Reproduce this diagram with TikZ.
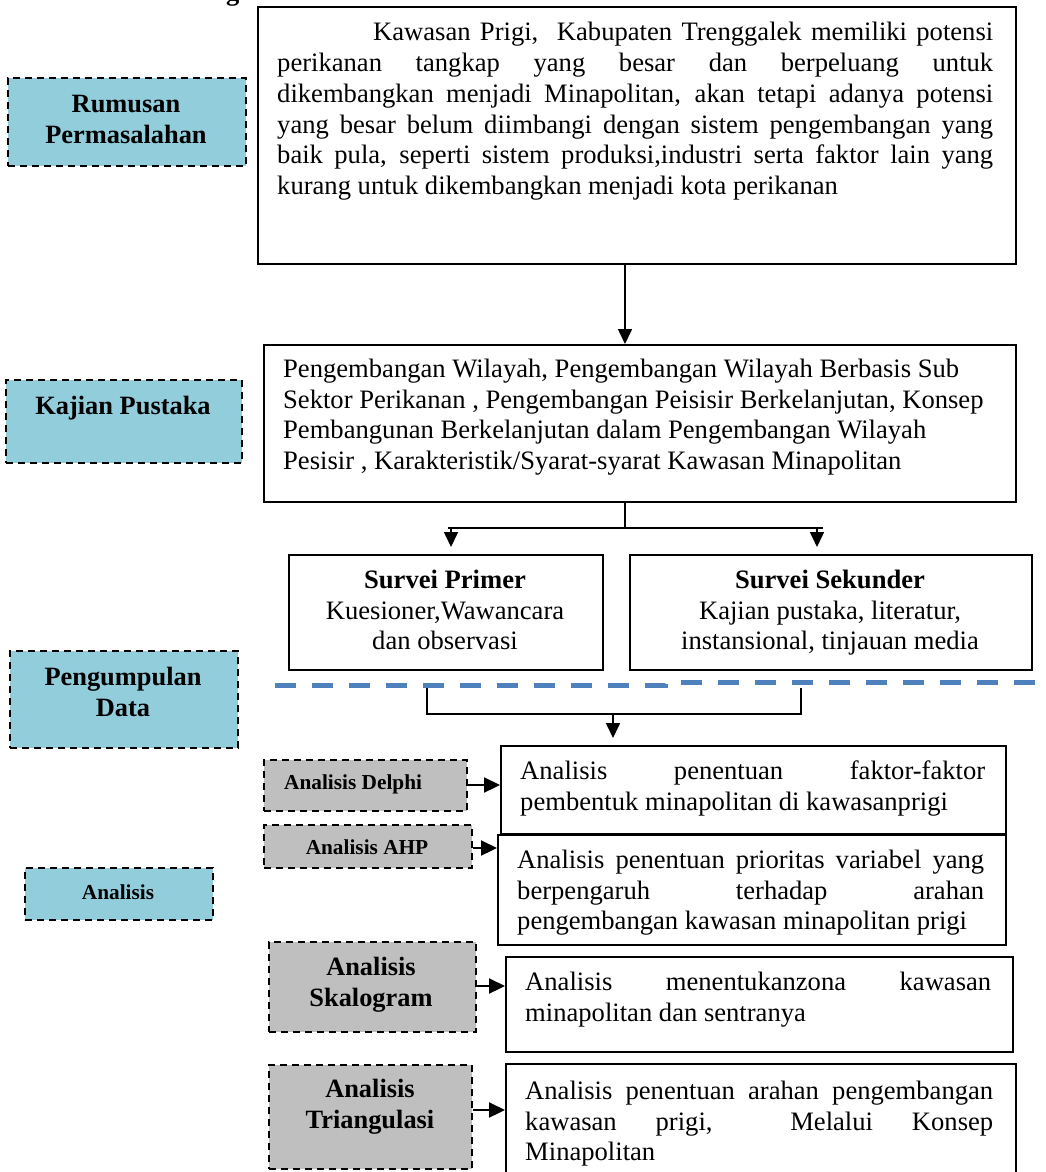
\documentclass[tikz,border=0pt]{standalone}
\usepackage{fontspec}
\setmainfont{Liberation Serif}
\usetikzlibrary{arrows.meta}

\definecolor{tagblue}{HTML}{92CDDC}
\definecolor{taggray}{HTML}{BFBFBF}
\definecolor{rulerblue}{HTML}{4F81BD}

\newcommand{\bodyfont}{\fontsize{26.6}{30.8}\selectfont}
\newcommand{\tagfont}{\fontsize{26.4}{31}\selectfont\bfseries}
\newcommand{\smalltagfont}{\fontsize{21.3}{26}\selectfont\bfseries}
% one justified line of a given width
\newcommand{\jl}[2]{\makebox[#1][s]{#2}}
% fixed first-line height, so the top of a text block sits 20pt above its first baseline
\newcommand{\st}{\rule{0pt}{20pt}}
\newcommand{\sst}{\rule{0pt}{16pt}}

\tikzset{
  box/.style={draw=black, line width=2pt, inner sep=0pt, anchor=north west},
  tag/.style={draw=black, line width=2.2pt, dash pattern=on 7pt off 5pt, inner sep=0pt, anchor=north west},
  bluetag/.style={tag, fill=tagblue},
  graytag/.style={tag, fill=taggray},
  body/.style={inner sep=0pt, anchor=north west, align=left, font=\bodyfont},
  tagtext/.style={inner sep=0pt, anchor=north, align=center, font=\tagfont},
  smalltext/.style={inner sep=0pt, anchor=north, align=center, font=\smalltagfont},
  conn/.style={line width=1.6pt},
  arr/.style={line width=1.6pt, -{Triangle[length=15pt,width=14pt]}},
  sidearr/.style={line width=2.2pt, -{Triangle[length=16pt,width=15pt]}},
  ruler/.style={draw=rulerblue, line width=5pt, dash pattern=on 21pt off 16pt},
}

\begin{document}
\begin{tikzpicture}[x=1pt,y=-1pt]
\useasboundingbox (0,0) rectangle (1046,1172);

% heading fragment above the first box
\node[inner sep=0pt, anchor=base west, font=\tagfont] (frag) at (226,1) {g};

% ---------- boxes ----------
\node[box, minimum width=758pt, minimum height=257pt] (problem) at (257,6) {};
\node[box, minimum width=752pt, minimum height=157pt] (review) at (263,344) {};
\node[box, minimum width=314pt, minimum height=115pt] (primer) at (288,554) {};
\node[box, minimum width=402pt, minimum height=115pt] (sekunder) at (629,554) {};
\node[box, minimum width=505pt, minimum height=88pt] (delphibox) at (500,745) {};
\node[box, minimum width=508pt, minimum height=110pt] (ahpbox) at (497,834) {};
\node[box, minimum width=507pt, minimum height=95pt] (skalobox) at (505,956) {};
\node[box, minimum width=510pt, minimum height=130pt] (triabox) at (505,1063) {};

% ---------- stage tags ----------
\node[bluetag, minimum width=238pt, minimum height=88pt] (tagrumusan) at (7,77) {};
\node[bluetag, minimum width=236pt, minimum height=83pt] (tagkajian) at (5,379) {};
\node[bluetag, minimum width=228pt, minimum height=97pt] (tagdata) at (9,650) {};
\node[bluetag, minimum width=188pt, minimum height=52pt] (taganalisis) at (24,867) {};

\node[graytag, minimum width=203pt, minimum height=51pt] (tagdelphi) at (263,759) {};
\node[graytag, minimum width=208pt, minimum height=43pt] (tagahp) at (263,824) {};
\node[graytag, minimum width=207pt, minimum height=90pt] (tagskalo) at (268,941) {};
\node[graytag, minimum width=203pt, minimum height=104pt] (tagtria) at (268,1064) {};

% ---------- tag texts ----------
\node[tagtext] (lrumusan) at (126,92) {\st Rumusan\\Permasalahan};
\node[tagtext] (lkajian) at (123,394) {\st Kajian Pustaka};
\node[tagtext] (ldata) at (123,665) {\st Pengumpulan\\Data};
\node[smalltext] (lanalisis) at (118,883) {\sst Analisis};
\node[smalltext, anchor=north west] (ldelphi) at (284,773) {\sst Analisis Delphi};
\node[smalltext] (lahp) at (367,838) {\sst Analisis AHP};
\node[tagtext] (lskalo) at (371,955) {\st Analisis\\Skalogram};
\node[tagtext] (ltria) at (370,1077) {\st Analisis\\Triangulasi};

% ---------- box texts ----------
\node[body] (tproblem) at (277,20.5) {%
  \st\hspace*{96pt}\jl{620pt}{Kawasan Prigi,\ \ Kabupaten Trenggalek memiliki potensi}\\
  \jl{716pt}{perikanan tangkap yang besar dan berpeluang untuk}\\
  \jl{716pt}{dikembangkan menjadi Minapolitan, akan tetapi adanya potensi}\\
  \jl{716pt}{yang besar belum diimbangi dengan sistem pengembangan yang}\\
  \jl{716pt}{baik pula, seperti sistem produksi,industri serta faktor lain yang}\\
  kurang untuk dikembangkan menjadi kota perikanan};

\node[body] (treview) at (283,357) {%
  \st Pengembangan Wilayah, Pengembangan Wilayah Berbasis Sub\\
  Sektor Perikanan , Pengembangan Peisisir Berkelanjutan, Konsep\\
  Pembangunan Berkelanjutan dalam Pengembangan Wilayah\\
  Pesisir , Karakteristik/Syarat-syarat Kawasan Minapolitan};

\node[body, anchor=north, align=center] (tprimer) at (445,568) {%
  \st\textbf{Survei Primer}\\Kuesioner,Wawancara\\dan observasi};
\node[body, anchor=north, align=center] (tsekunder) at (830,568) {%
  \st\textbf{Survei Sekunder}\\Kajian pustaka, literatur,\\instansional, tinjauan media};

\node[body] (tdelphi) at (520,759) {%
  \st\jl{465pt}{Analisis penentuan faktor-faktor}\\
  pembentuk minapolitan di kawasanprigi};
\node[body] (tahp) at (517,848) {%
  \st\jl{467pt}{Analisis penentuan prioritas variabel yang}\\
  \jl{467pt}{berpengaruh terhadap arahan}\\
  pengembangan kawasan minapolitan prigi};
\node[body] (tskalo) at (525,970) {%
  \st\jl{466pt}{Analisis menentukanzona kawasan}\\
  minapolitan dan sentranya};
\node[body] (ttria) at (525,1079) {%
  \st\jl{468pt}{Analisis penentuan arahan pengembangan}\\
  \makebox[468pt]{kawasan\hfill prigi,\hfill\hfill Melalui\hfill Konsep}\\
  Minapolitan};

% ---------- divider between data collection and analysis ----------
\draw[ruler] (275,685) -- (665,685) -- (665,682);
\draw[ruler, dash phase=21pt] (665,682) -- (1046,682);

% ---------- connectors ----------
\coordinate (xmain) at (625,0);
\draw[arr] (problem.south -| xmain) -- (review.north -| xmain);

\coordinate (split) at (625,528);
\coordinate (splitl) at (448,528);
\coordinate (splitr) at (823,528);
\coordinate (toprimer) at (451,528);
\coordinate (tosekunder) at (817,528);
\draw[conn] (review.south -| xmain) -- (split);
\draw[conn] (splitl) -- (splitr);
\draw[arr, shorten >=7pt] (toprimer) -- (primer.north -| toprimer);
\draw[arr, shorten >=7pt] (tosekunder) -- (sekunder.north -| tosekunder);

\coordinate (joinl) at (427,688);
\coordinate (joinlb) at (427,714);
\coordinate (joinrb) at (801,714);
\coordinate (joinr) at (801,688);
\coordinate (joinmid) at (613,714);
\draw[conn] (joinl) -- (joinlb) -- (joinrb) -- (joinr);
\draw[arr, shorten >=7pt] (joinmid) -- (delphibox.north -| joinmid);

\coordinate (ydelphi) at (0,785);
\coordinate (yahp) at (0,848);
\coordinate (yskalo) at (0,986);
\coordinate (ytria) at (0,1110);
\draw[sidearr] (tagdelphi.east |- ydelphi) -- (delphibox.west |- ydelphi);
\draw[sidearr] (tagahp.east |- yahp) -- (ahpbox.west |- yahp);
\draw[sidearr] (tagskalo.east |- yskalo) -- (skalobox.west |- yskalo);
\draw[sidearr] (tagtria.east |- ytria) -- (triabox.west |- ytria);
\end{tikzpicture}
\end{document}
